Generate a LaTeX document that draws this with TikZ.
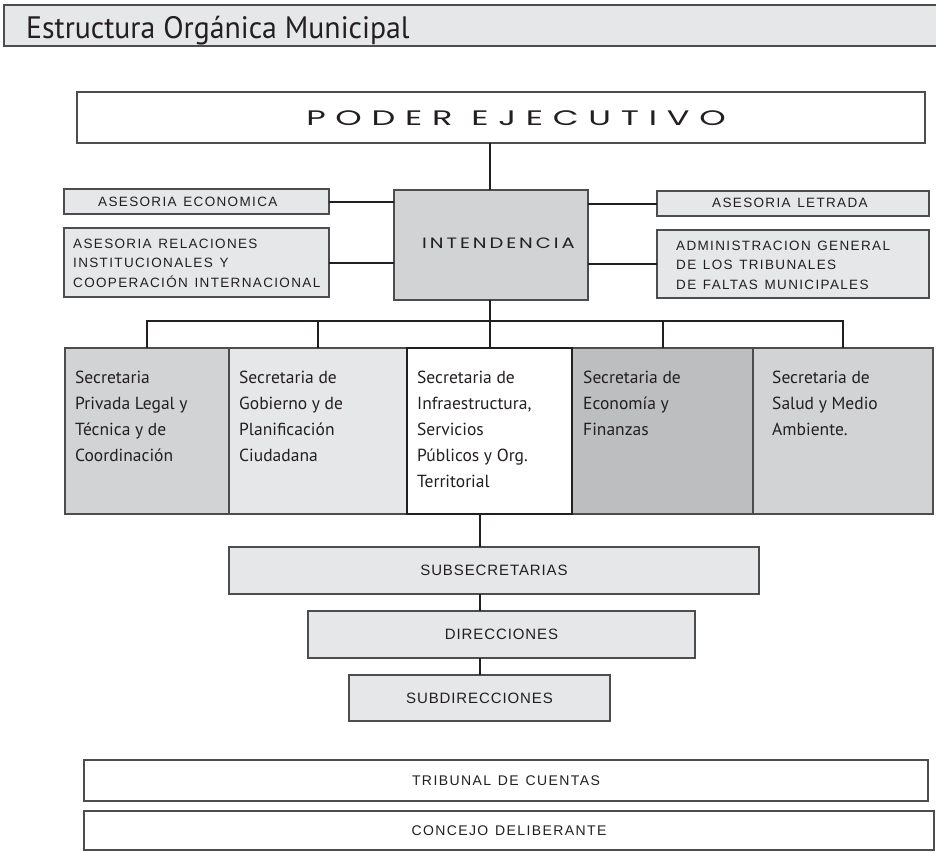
\documentclass[tikz,border=0pt]{standalone}
\usepackage{fontspec}
\setmainfont{PT Sans}
\newfontfamily\labelfont[LetterSpace=10,WordSpace=1.3]{Liberation Sans}
\newfontfamily\levelfont[LetterSpace=6]{Liberation Sans}
\newfontfamily\headfont[LetterSpace=29]{Poppins}
\newfontfamily\intfont[LetterSpace=15]{Poppins}
\definecolor{paleg}{HTML}{E6E7E8}
\definecolor{midg}{HTML}{D1D3D4}
\definecolor{deepg}{HTML}{BCBEC0}
\definecolor{rule}{HTML}{4D4D4F}
\definecolor{ink}{HTML}{231F20}
\tikzset{
  boxbase/.style={draw=rule, line width=1.2pt, inner sep=0pt, outer sep=0pt, anchor=north west},
  pale/.style={boxbase, fill=paleg},
  mid/.style={boxbase, fill=midg},
  deep/.style={boxbase, fill=deepg},
  plain/.style={boxbase, fill=white},
  link/.style={draw=ink, line width=2pt},
  caps/.style={font=\fontsize{13.5}{19.2}\selectfont\labelfont, text=ink, inner sep=0pt, align=left},
  level/.style={font=\fontsize{15}{18}\selectfont\levelfont, text=ink, inner sep=0pt},
  sec/.style={font=\fontsize{17.5}{26}\selectfont, text=ink, inner sep=0pt, align=left, anchor=north west},
}
\begin{document}
\begin{tikzpicture}[x=1pt,y=-1pt]
\useasboundingbox (0,0) rectangle (936,852);

% heading bar
\node[pale, minimum width=940, minimum height=41] (title) at (4,5) {};
\node[anchor=base west, inner sep=0pt, text=ink] (ttl) at (26,38)
  {\scalebox{0.96}[1]{\fontsize{31}{31}\selectfont Estructura Orgánica Municipal}};

% executive and intendencia
\node[plain, minimum width=848, minimum height=51] (poder) at (77,92) {};
\node[anchor=base, inner sep=0pt, text=ink] (poderlbl) at (516,125)
  {\scalebox{1.6}[1]{\fontsize{21}{21}\selectfont\headfont PODER EJECUTIVO}};
\node[mid, minimum width=194, minimum height=110] (int) at (394,190) {};
\node[anchor=base west, inner sep=0pt, text=ink] (intlbl) at (422,248)
  {\scalebox{1.3}[1]{\fontsize{15}{15}\selectfont\intfont INTENDENCIA}};

% advisory offices
\node[pale, minimum width=265, minimum height=25] (aeco) at (64,189) {};
\node[caps, anchor=base west] (aecolbl) at (98,206) {ASESORIA ECONOMICA};
\node[pale, minimum width=265, minimum height=69] (arel) at (64,228) {};
\node[caps, anchor=north west] (arellbl) at (73,239)
  {ASESORIA RELACIONES\\INSTITUCIONALES Y\\COOPERACIÓN INTERNACIONAL};
\node[pale, minimum width=272, minimum height=25] (alet) at (657,191) {};
\node[caps, anchor=base west] (aletlbl) at (712,207) {ASESORIA LETRADA};
\node[pale, minimum width=272, minimum height=68] (aadm) at (657,230) {};
\node[caps, anchor=north west] (aadmlbl) at (676,241)
  {ADMINISTRACION GENERAL\\DE LOS TRIBUNALES\\DE FALTAS MUNICIPALES};

% secretariats
\node[mid, minimum width=164, minimum height=166] (s1) at (65,348) {};
\node[pale, minimum width=178, minimum height=166] (s2) at (229,348) {};
\node[deep, minimum width=181, minimum height=166] (s4) at (572,348) {};
\node[mid, minimum width=180, minimum height=166] (s5) at (753,348) {};
\node[plain, draw=ink, line width=2.2pt, minimum width=165, minimum height=166] (s3) at (407,348) {};
\node[sec] (s1lbl) at (75,371) {Secretaria\\Privada Legal y\\Técnica y de\\Coordinación};
\node[sec] (s2lbl) at (239,371) {Secretaria de\\Gobierno y de\\Planificación\\Ciudadana};
\node[sec] (s3lbl) at (417,371) {Secretaria de\\Infraestructura,\\Servicios\\Públicos y Org.\\Territorial};
\node[sec] (s4lbl) at (583,371) {Secretaria de\\Economía y\\Finanzas};
\node[sec] (s5lbl) at (772,371) {Secretaria de\\Salud y Medio\\Ambiente.};

% lower levels
\node[pale, minimum width=530, minimum height=47] (sub) at (229,547) {};
\node[level] (sublbl) at (sub.center) {SUBSECRETARIAS};
\node[pale, minimum width=387, minimum height=47] (dir) at (308,611) {};
\node[level] (dirlbl) at (dir.center) {DIRECCIONES};
\node[pale, minimum width=261, minimum height=46] (subd) at (349,675) {};
\node[level] (subdlbl) at (subd.center) {SUBDIRECCIONES};

% bodies outside the executive
\node[plain, minimum width=844, minimum height=41] (trib) at (84,760) {};
\node[caps, font=\fontsize{14}{18}\selectfont\labelfont] (triblbl) at (trib.center) {TRIBUNAL DE CUENTAS};
\node[plain, minimum width=850, minimum height=39] (conc) at (84,811) {};
\node[caps, font=\fontsize{14}{18}\selectfont\labelfont] (conclbl) at (conc.center) {CONCEJO DELIBERANTE};

% connectors
\coordinate (bus) at ([yshift=-21pt]int.south -| s3.north);
\draw[link] (poder.south -| s3.north) -- (int.north -| s3.north);
\draw[link] (aeco.east) -- (aeco.east -| int.west);
\draw[link] (arel.east) -- (arel.east -| int.west);
\draw[link] (alet.west) -- (alet.west -| int.east);
\draw[link] (aadm.west) -- (aadm.west -| int.east);
\draw[link] (int.south -| s3.north) -- (bus);
\draw[link] (s1.north) |- (bus) -| (s5.north);
\foreach \s in {s2,s3,s4} \draw[link] (\s.north) -- (\s.north |- bus);
\draw[link] (s3.south -| subd.north) -- (sub.north -| subd.north);
\draw[link] (sub.south -| subd.north) -- (dir.north -| subd.north);
\draw[link] (dir.south -| subd.north) -- (subd.north);
\end{tikzpicture}
\end{document}
